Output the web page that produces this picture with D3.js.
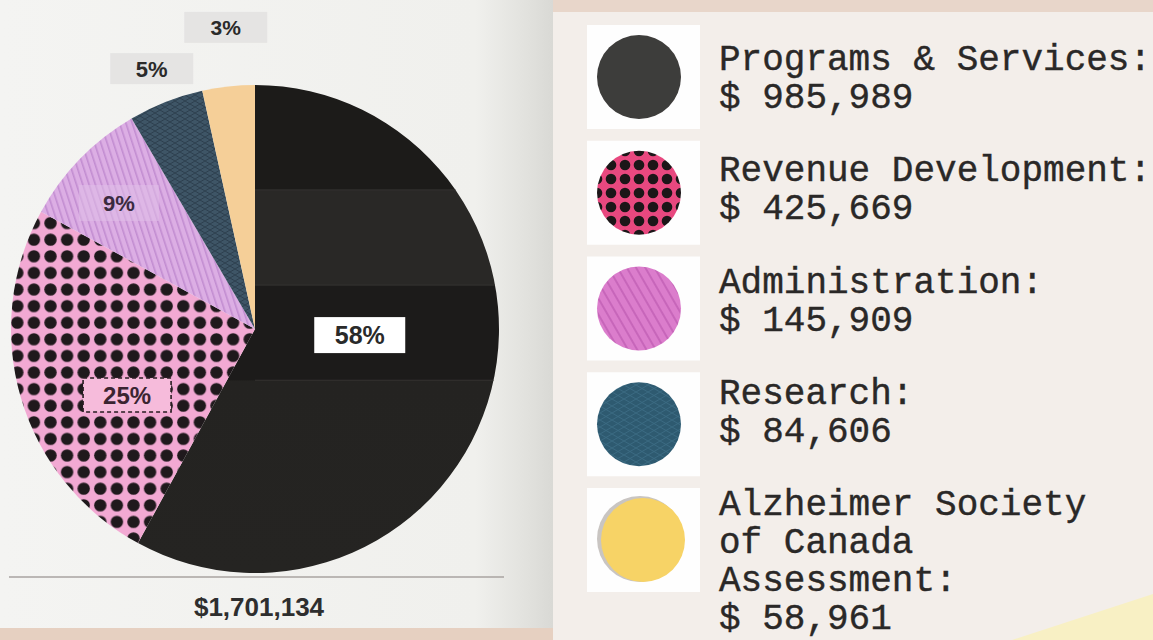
<!DOCTYPE html>
<html>
<head>
<meta charset="utf-8">
<script src="https://cdn.jsdelivr.net/npm/d3@7"></script>
<style>
  html, body { margin: 0; padding: 0; background: #f2ede9; }
  svg { display: block; }
</style>
</head>
<body>
<div id="chart"></div>
<script>
// data
var categories = ["Programs & Services", "Revenue Development", "Administration", "Research", "Alzheimer Society of Canada Assessment"];
var amounts = [985989, 425669, 145909, 84606, 58961];
var legendNames = [
  ["Programs & Services:"],
  ["Revenue Development:"],
  ["Administration:"],
  ["Research:"],
  ["Alzheimer Society", "of Canada", "Assessment:"]
];

var W = 1153, H = 640;
var cx = 255, cy = 329, R = 244;

var svg = d3.select("#chart").append("svg")
  .attr("width", W)
  .attr("height", H);

var defs = svg.append("defs");

// --- backgrounds / paper
var pg = defs.append("linearGradient").attr("id", "leftPage")
  .attr("x1", 0).attr("y1", 0).attr("x2", 1).attr("y2", 0);
pg.append("stop").attr("offset", 0).attr("stop-color", "#f4f4f2");
pg.append("stop").attr("offset", 0.86).attr("stop-color", "#f0f0ed");
pg.append("stop").attr("offset", 0.95).attr("stop-color", "#e2e2de");
pg.append("stop").attr("offset", 1).attr("stop-color", "#d9d9d5");

svg.append("rect").attr("width", W).attr("height", H).attr("fill", "#f3eeea");
svg.append("rect").attr("x", 553).attr("y", 0).attr("width", W - 553).attr("height", 12).attr("fill", "#e8d6ca");
svg.append("path").attr("d", "M1012,640 L1153,594 L1153,640 Z").attr("fill", "#f8f0c4");
svg.append("rect").attr("x", 0).attr("y", 0).attr("width", 553).attr("height", 628).attr("fill", "url(#leftPage)");
svg.append("rect").attr("x", 0).attr("y", 628).attr("width", 553).attr("height", 12).attr("fill", "#e6d0c1");

// --- slice patterns (pie group is centred, so the gradient runs -R..R)
var bands = defs.append("linearGradient").attr("id", "blackBands")
  .attr("gradientUnits", "userSpaceOnUse")
  .attr("x1", 0).attr("y1", -R).attr("x2", 0).attr("y2", R);
[[0, "#1c1b19"], [0.215, "#1c1b19"], [0.216, "#292826"], [0.41, "#292826"], [0.411, "#1c1b1a"],
 [0.605, "#1c1b1a"], [0.606, "#242321"], [1, "#252422"]].forEach(function (s) {
  bands.append("stop").attr("offset", s[0]).attr("stop-color", s[1]);
});

var dots = defs.append("pattern").attr("id", "dots")
  .attr("patternUnits", "userSpaceOnUse").attr("width", 16.6).attr("height", 16.6)
  .attr("x", 3).attr("y", 2);
dots.append("rect").attr("width", 16.6).attr("height", 16.6).attr("fill", "#f2a9d3");
dots.append("circle").attr("cx", 8.3).attr("cy", 8.3).attr("r", 6.2).attr("fill", "#1f191c");

var stripes = defs.append("pattern").attr("id", "stripes")
  .attr("patternUnits", "userSpaceOnUse").attr("width", 6).attr("height", 6)
  .attr("patternTransform", "rotate(-18)");
stripes.append("rect").attr("width", 6).attr("height", 6).attr("fill", "#dcaee4");
stripes.append("rect").attr("width", 1.6).attr("height", 6).attr("fill", "#c28dd1");

var hatch = defs.append("pattern").attr("id", "hatch")
  .attr("patternUnits", "userSpaceOnUse").attr("width", 10).attr("height", 6);
hatch.append("rect").attr("width", 10).attr("height", 6).attr("fill", "#3e5566");
hatch.append("path").attr("d", "M0,0 L5,3 L10,0 M0,6 L5,3 L10,6")
  .attr("stroke", "#2d3f4e").attr("stroke-width", 1).attr("fill", "none");

var sliceFills = ["url(#blackBands)", "url(#dots)", "url(#stripes)", "url(#hatch)", "#f5cf98"];

// --- legend patterns
var ldots = defs.append("pattern").attr("id", "ldots")
  .attr("patternUnits", "userSpaceOnUse").attr("width", 14).attr("height", 14).attr("x", 2).attr("y", 4);
ldots.append("rect").attr("width", 14).attr("height", 14).attr("fill", "#e8487f");
ldots.append("circle").attr("cx", 7).attr("cy", 7).attr("r", 5.3).attr("fill", "#1c1618");

var lstripes = defs.append("pattern").attr("id", "lstripes")
  .attr("patternUnits", "userSpaceOnUse").attr("width", 8).attr("height", 8)
  .attr("patternTransform", "rotate(-30)");
lstripes.append("rect").attr("width", 8).attr("height", 8).attr("fill", "#db7dcc");
lstripes.append("rect").attr("width", 2).attr("height", 8).attr("fill", "#c766ba");

var lhatch = defs.append("pattern").attr("id", "lhatch")
  .attr("patternUnits", "userSpaceOnUse").attr("width", 12).attr("height", 7);
lhatch.append("rect").attr("width", 12).attr("height", 7).attr("fill", "#2e5a70");
lhatch.append("path").attr("d", "M0,0 L6,3.5 L12,0 M0,7 L6,3.5 L12,7")
  .attr("stroke", "#3a6a82").attr("stroke-width", 1).attr("fill", "none");

var soft = defs.append("filter").attr("id", "soft");
soft.append("feGaussianBlur").attr("stdDeviation", 0.7);

var legendFills = ["#3d3c3b", "url(#ldots)", "url(#lstripes)", "url(#lhatch)", "#f7d366"];

// --- the pie
var total = d3.sum(amounts);
var pie = d3.pie().sort(null).value(function (d) { return d; });
var arc = d3.arc().innerRadius(0).outerRadius(R);
var arcs = pie(amounts);

var gPie = svg.append("g").attr("transform", "translate(" + cx + "," + cy + ")");
gPie.selectAll("path.slice")
  .data(arcs)
  .enter().append("path")
  .attr("class", "slice")
  .attr("d", arc)
  .attr("fill", function (d, i) { return sliceFills[i]; });

// faint print lines across the dark slice
var bandLines = [0.215, 0.41, 0.605];
gPie.append("g").selectAll("line")
  .data(bandLines).enter().append("line")
  .attr("x1", 0).attr("x2", function (d) { var y = -R + d * 2 * R; return Math.sqrt(R * R - y * y); })
  .attr("y1", function (d) { return -R + d * 2 * R; })
  .attr("y2", function (d) { return -R + d * 2 * R; })
  .attr("stroke", "#353331").attr("stroke-width", 1);

// percent labels
var pct = d3.format(".0%");
var labelLayout = [
  { rf: 0.43, shift: -11, w: 91, h: 36, fill: "#ffffff", size: 25, color: "#2a2a2a" },
  { rf: 0.59, shift: -11, w: 88, h: 34, fill: "#f6bbdb", size: 24, color: "#3b2431" },
  { rf: 0.76, shift: -1.4, w: 80, h: 36, fill: "#e0c0e8", size: 22, color: "#3a2b40" },
  { rf: 1.148, shift: -0.2, w: 83, h: 31, fill: "#e5e4e3", size: 22, color: "#2a2a2a" },
  { rf: 1.242, shift: 0.7, w: 83, h: 31, fill: "#e5e4e3", size: 21, color: "#2a2a2a" }
];

var labels = gPie.selectAll("g.lab")
  .data(arcs).enter().append("g")
  .attr("class", "lab")
  .attr("transform", function (d, i) {
    var L = labelLayout[i];
    var a = (d.startAngle + d.endAngle) / 2 + L.shift * Math.PI / 180;
    var r = L.rf * R;
    return "translate(" + (r * Math.sin(a)) + "," + (-r * Math.cos(a)) + ")";
  });

labels.append("rect")
  .attr("x", function (d, i) { return -labelLayout[i].w / 2; })
  .attr("y", function (d, i) { return -labelLayout[i].h / 2; })
  .attr("width", function (d, i) { return labelLayout[i].w; })
  .attr("height", function (d, i) { return labelLayout[i].h; })
  .attr("fill", function (d, i) { return labelLayout[i].fill; })
  .attr("opacity", function (d, i) { return i === 2 ? 0.55 : 1; })
  .attr("stroke", function (d, i) { return i === 1 ? "#2a1d23" : "none"; })
  .attr("stroke-width", 1.6)
  .attr("stroke-dasharray", "4,3");

labels.append("text")
  .attr("text-anchor", "middle")
  .attr("dy", "0.36em")
  .attr("font-family", "'Liberation Sans', Arial, Helvetica, sans-serif")
  .attr("font-weight", 700)
  .attr("font-size", function (d, i) { return labelLayout[i].size; })
  .attr("fill", function (d, i) { return labelLayout[i].color; })
  .text(function (d) { return pct(d.value / total); });

// base line and total
svg.append("line")
  .attr("x1", 9).attr("x2", 504).attr("y1", 577).attr("y2", 577)
  .attr("stroke", "#a9a3a1").attr("stroke-width", 1.3);

svg.append("text")
  .attr("x", 259).attr("y", 616)
  .attr("text-anchor", "middle")
  .attr("font-family", "'Liberation Sans', Arial, Helvetica, sans-serif")
  .attr("font-weight", 700)
  .attr("font-size", 26)
  .attr("fill", "#2e2e2e")
  .text(d3.format("$,")(total));

// --- legend
var rowY = d3.scalePoint().domain(categories).range([70, 515]);
var boxY = d3.scalePoint().domain(categories).range([25, 488]);
var lineGap = 38;
var money = d3.format(",");

var leg = svg.append("g").selectAll("g.item")
  .data(categories).enter().append("g").attr("class", "item");

leg.append("rect")
  .attr("x", 587).attr("y", function (d) { return boxY(d); })
  .attr("width", 113).attr("height", 104)
  .attr("fill", "#fefefe");

leg.filter(function (d, i) { return i === 4; }).append("circle")
  .attr("cx", 640).attr("cy", function (d) { return boxY(d) + 51; })
  .attr("r", 43).attr("fill", "#c9c5c2");

leg.append("circle")
  .attr("cx", function (d, i) { return i === 4 ? 643 : 639; })
  .attr("cy", function (d) { return boxY(d) + 52; })
  .attr("r", 42)
  .attr("fill", function (d, i) { return legendFills[i]; })
  .attr("filter", function (d, i) { return i === 0 ? "url(#soft)" : null; });

leg.each(function (d, i) {
  var lines = legendNames[i].concat(["$ " + money(amounts[i])]);
  d3.select(this).selectAll("text")
    .data(lines).enter().append("text")
    .attr("x", 719)
    .attr("y", function (t, j) { return rowY(d) + j * lineGap; })
    .attr("font-family", "'Liberation Mono', 'Courier New', monospace")
    .attr("font-size", 36)
    .attr("fill", "#2a2827")
    .attr("stroke", "#2a2827")
    .attr("stroke-width", 0.4)
    .text(function (t) { return t; });
});
</script>
</body>
</html>
